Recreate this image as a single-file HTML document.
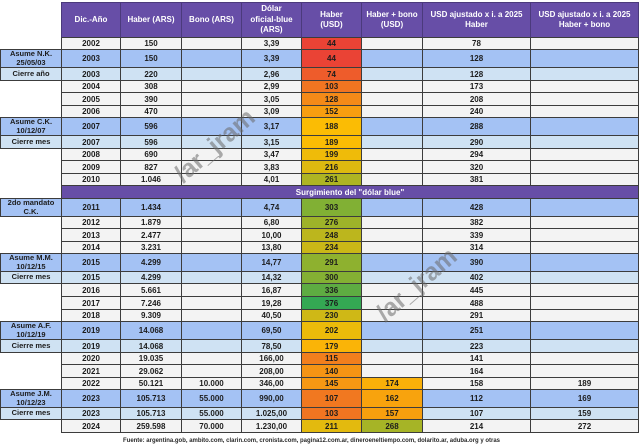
<!DOCTYPE html>
<html><head><meta charset="utf-8">
<style>
*{box-sizing:border-box;}
body{margin:0;width:640px;height:445px;background:#fff;position:relative;overflow:hidden;font-family:"Liberation Sans",sans-serif;}
.r{position:absolute;left:61px;width:578px;display:flex;}
.c{border-right:1px solid #3c3c3c;border-bottom:1px solid #3c3c3c;display:flex;align-items:center;justify-content:center;font-size:8px;font-weight:bold;color:#1c1c1c;height:100%;background:#f3f3f3;}
.c:nth-child(1){width:60px;border-left:1px solid #3c3c3c;}
.c:nth-child(2){width:61px;}
.c:nth-child(3){width:60px;}
.c:nth-child(4){width:60px;}
.c:nth-child(5){width:60px;}
.c:nth-child(6){width:61px;}
.c:nth-child(7){width:108px;}
.c:nth-child(8){width:108px;}
.a .c{background:#a4c2f4;}
.k .c{background:#cfe2f3;}
.hd{top:2px;height:36px;}
.hd .c{background:#674ea7;color:#fff;text-align:center;line-height:10.5px;border-color:#4b3a7c;border-top:1px solid #4b3a7c;border-bottom:1px solid #3c3c3c;font-size:8px;}
.lb{position:absolute;left:0;width:62px;border:1px solid #3c3c3c;display:flex;align-items:center;justify-content:center;text-align:center;font-size:7.5px;font-weight:bold;color:#1c1c1c;line-height:8.5px;}
.la{background:#a4c2f4;}
.lk{background:#cfe2f3;}
.sg{position:absolute;left:61px;width:578px;top:186px;height:13px;background:#674ea7;color:#fff;font-size:8px;font-weight:bold;display:flex;align-items:center;justify-content:center;border-left:1px solid #3c3c3c;border-right:1px solid #3c3c3c;border-bottom:1px solid #3c3c3c;}
.wm{position:absolute;font-size:25px;font-weight:bold;color:rgba(105,105,105,0.55);transform:translate(-50%,-50%) rotate(-41deg);white-space:nowrap;}
</style></head><body>

<div class="r hd">
<div class="c">Dic.-Año</div>
<div class="c">Haber (ARS)</div>
<div class="c">Bono (ARS)</div>
<div class="c">Dólar<br>oficial-blue<br>(ARS)</div>
<div class="c">Haber<br>(USD)</div>
<div class="c">Haber + bono<br>(USD)</div>
<div class="c">USD ajustado x i. a 2025<br>Haber</div>
<div class="c">USD ajustado x i. a 2025<br>Haber + bono</div>
</div>

<div class="r" style="top:38px;height:12px"><div class="c">2002</div><div class="c">150</div><div class="c"></div><div class="c">3,39</div><div class="c" style="background:#ea4335">44</div><div class="c"></div><div class="c">78</div><div class="c"></div></div>
<div class="r a" style="top:50px;height:18px"><div class="c">2003</div><div class="c">150</div><div class="c"></div><div class="c">3,39</div><div class="c" style="background:#ea4335">44</div><div class="c"></div><div class="c">128</div><div class="c"></div></div>
<div class="r k" style="top:68px;height:13px"><div class="c">2003</div><div class="c">220</div><div class="c"></div><div class="c">2,96</div><div class="c" style="background:#ee5c2b">74</div><div class="c"></div><div class="c">128</div><div class="c"></div></div>
<div class="r" style="top:81px;height:12px"><div class="c">2004</div><div class="c">308</div><div class="c"></div><div class="c">2,99</div><div class="c" style="background:#f17521">103</div><div class="c"></div><div class="c">173</div><div class="c"></div></div>
<div class="r" style="top:93px;height:13px"><div class="c">2005</div><div class="c">390</div><div class="c"></div><div class="c">3,05</div><div class="c" style="background:#f48a18">128</div><div class="c"></div><div class="c">208</div><div class="c"></div></div>
<div class="r" style="top:106px;height:12px"><div class="c">2006</div><div class="c">470</div><div class="c"></div><div class="c">3,09</div><div class="c" style="background:#f79e10">152</div><div class="c"></div><div class="c">240</div><div class="c"></div></div>
<div class="r a" style="top:118px;height:18px"><div class="c">2007</div><div class="c">596</div><div class="c"></div><div class="c">3,17</div><div class="c" style="background:#fbbc04">188</div><div class="c"></div><div class="c">288</div><div class="c"></div></div>
<div class="r k" style="top:136px;height:13px"><div class="c">2007</div><div class="c">596</div><div class="c"></div><div class="c">3,15</div><div class="c" style="background:#fbbc04">189</div><div class="c"></div><div class="c">290</div><div class="c"></div></div>
<div class="r" style="top:149px;height:12px"><div class="c">2008</div><div class="c">690</div><div class="c"></div><div class="c">3,47</div><div class="c" style="background:#efbb09">199</div><div class="c"></div><div class="c">294</div><div class="c"></div></div>
<div class="r" style="top:161px;height:13px"><div class="c">2009</div><div class="c">827</div><div class="c"></div><div class="c">3,83</div><div class="c" style="background:#ddb910">216</div><div class="c"></div><div class="c">320</div><div class="c"></div></div>
<div class="r" style="top:174px;height:12px"><div class="c">2010</div><div class="c">1.046</div><div class="c"></div><div class="c">4,01</div><div class="c" style="background:#aeb423">261</div><div class="c"></div><div class="c">381</div><div class="c"></div></div>

<div class="sg">Surgimiento del "dólar blue"</div>

<div class="r a" style="top:199px;height:18px"><div class="c">2011</div><div class="c">1.434</div><div class="c"></div><div class="c">4,74</div><div class="c" style="background:#81b034">303</div><div class="c"></div><div class="c">428</div><div class="c"></div></div>
<div class="r" style="top:217px;height:12px"><div class="c">2012</div><div class="c">1.879</div><div class="c"></div><div class="c">6,80</div><div class="c" style="background:#9eb329">276</div><div class="c"></div><div class="c">382</div><div class="c"></div></div>
<div class="r" style="top:229px;height:13px"><div class="c">2013</div><div class="c">2.477</div><div class="c"></div><div class="c">10,00</div><div class="c" style="background:#bcb61d">248</div><div class="c"></div><div class="c">339</div><div class="c"></div></div>
<div class="r" style="top:242px;height:12px"><div class="c">2014</div><div class="c">3.231</div><div class="c"></div><div class="c">13,80</div><div class="c" style="background:#cab717">234</div><div class="c"></div><div class="c">314</div><div class="c"></div></div>
<div class="r a" style="top:254px;height:18px"><div class="c">2015</div><div class="c">4.299</div><div class="c"></div><div class="c">14,77</div><div class="c" style="background:#8eb12f">291</div><div class="c"></div><div class="c">390</div><div class="c"></div></div>
<div class="r k" style="top:272px;height:12px"><div class="c">2015</div><div class="c">4.299</div><div class="c"></div><div class="c">14,32</div><div class="c" style="background:#84b033">300</div><div class="c"></div><div class="c">402</div><div class="c"></div></div>
<div class="r" style="top:284px;height:13px"><div class="c">2016</div><div class="c">5.661</div><div class="c"></div><div class="c">16,87</div><div class="c" style="background:#5eac42">336</div><div class="c"></div><div class="c">445</div><div class="c"></div></div>
<div class="r" style="top:297px;height:13px"><div class="c">2017</div><div class="c">7.246</div><div class="c"></div><div class="c">19,28</div><div class="c" style="background:#34a853">376</div><div class="c"></div><div class="c">488</div><div class="c"></div></div>
<div class="r" style="top:310px;height:12px"><div class="c">2018</div><div class="c">9.309</div><div class="c"></div><div class="c">40,50</div><div class="c" style="background:#cfb816">230</div><div class="c"></div><div class="c">291</div><div class="c"></div></div>
<div class="r a" style="top:322px;height:18px"><div class="c">2019</div><div class="c">14.068</div><div class="c"></div><div class="c">69,50</div><div class="c" style="background:#ecbb0a">202</div><div class="c"></div><div class="c">251</div><div class="c"></div></div>
<div class="r k" style="top:340px;height:13px"><div class="c">2019</div><div class="c">14.068</div><div class="c"></div><div class="c">78,50</div><div class="c" style="background:#fab407">179</div><div class="c"></div><div class="c">223</div><div class="c"></div></div>
<div class="r" style="top:353px;height:12px"><div class="c">2020</div><div class="c">19.035</div><div class="c"></div><div class="c">166,00</div><div class="c" style="background:#f27f1d">115</div><div class="c"></div><div class="c">141</div><div class="c"></div></div>
<div class="r" style="top:365px;height:13px"><div class="c">2021</div><div class="c">29.062</div><div class="c"></div><div class="c">208,00</div><div class="c" style="background:#f59414">140</div><div class="c"></div><div class="c">164</div><div class="c"></div></div>
<div class="r" style="top:378px;height:12px"><div class="c">2022</div><div class="c">50.121</div><div class="c">10.000</div><div class="c">346,00</div><div class="c" style="background:#f69813">145</div><div class="c" style="background:#f9b009">174</div><div class="c">158</div><div class="c">189</div></div>
<div class="r a" style="top:390px;height:18px"><div class="c">2023</div><div class="c">105.713</div><div class="c">55.000</div><div class="c">990,00</div><div class="c" style="background:#f17820">107</div><div class="c" style="background:#f8a30d">162</div><div class="c">112</div><div class="c">169</div></div>
<div class="r k" style="top:408px;height:12px"><div class="c">2023</div><div class="c">105.713</div><div class="c">55.000</div><div class="c">1.025,00</div><div class="c" style="background:#f17521">103</div><div class="c" style="background:#f79f0e">157</div><div class="c">107</div><div class="c">159</div></div>
<div class="r" style="top:420px;height:13px"><div class="c">2024</div><div class="c">259.598</div><div class="c">70.000</div><div class="c">1.230,00</div><div class="c" style="background:#e3ba0e">211</div><div class="c" style="background:#a6b426">268</div><div class="c">214</div><div class="c">272</div></div>

<div class="lb la" style="top:49px;height:19px">Asume N.K.<br>25/05/03</div>
<div class="lb lk" style="top:67px;height:14px">Cierre año</div>
<div class="lb la" style="top:117px;height:19px">Asume C.K.<br>10/12/07</div>
<div class="lb lk" style="top:135px;height:14px">Cierre mes</div>
<div class="lb la" style="top:198px;height:19px">2do mandato<br>C.K.</div>
<div class="lb la" style="top:253px;height:19px">Asume M.M.<br>10/12/15</div>
<div class="lb lk" style="top:271px;height:13px">Cierre mes</div>
<div class="lb la" style="top:321px;height:19px">Asume A.F.<br>10/12/19</div>
<div class="lb lk" style="top:339px;height:14px">Cierre mes</div>
<div class="lb la" style="top:389px;height:19px">Asume J.M.<br>10/12/23</div>
<div class="lb lk" style="top:407px;height:13px">Cierre mes</div>

<div class="wm" style="left:215px;top:146px">/ar_jram</div>
<div class="wm" style="left:417px;top:285px">/ar_jram</div>

<svg style="position:absolute;left:0;top:434px" width="640" height="11">
<text x="311.5" y="8" text-anchor="middle" font-family="Liberation Sans, sans-serif" font-size="6" font-weight="bold" fill="#2a2a2a" textLength="377" lengthAdjust="spacingAndGlyphs">Fuente: argentina.gob, ambito.com, clarin.com, cronista.com, pagina12.com.ar, dineroeneltiempo.com, dolarito.ar, aduba.org y otras</text>
</svg>
</body></html>
